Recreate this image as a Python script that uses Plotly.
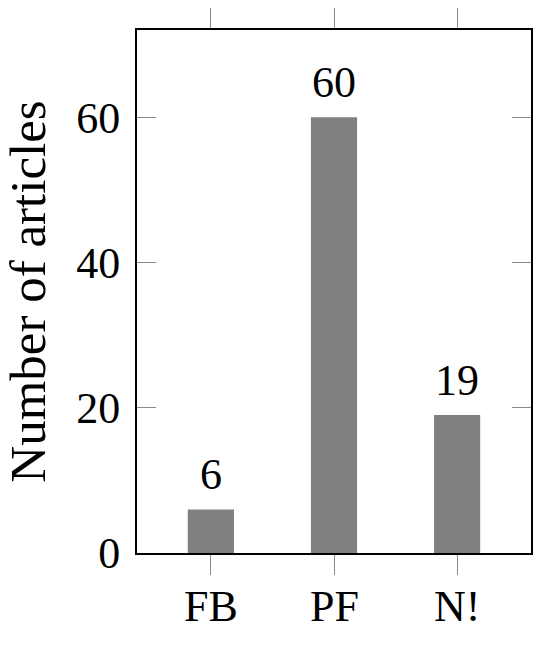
import plotly.graph_objects as go

categories = ["FB", "PF", "N!"]
counts = [6, 60, 19]
y_ticks = [0, 20, 40, 60]

FONT = "Palatino Linotype, Palatino, Book Antiqua, Liberation Serif, serif"

fig = go.Figure()

fig.add_trace(go.Bar(
    x=categories,
    y=counts,
    width=0.375,
    marker=dict(color="#808080", line=dict(width=0)),
))

# value labels above bars
for c, v in zip(categories, counts):
    fig.add_annotation(
        x=c, y=v, text=str(v),
        showarrow=False, yanchor="bottom", yshift=8,
        font=dict(size=44, color="black", family=FONT),
    )

# category labels under the axis (placed a bit higher than plotly's default)
for c in categories:
    fig.add_annotation(
        x=c, y=0, yref="paper", text=c,
        showarrow=False, yanchor="top", yshift=-27,
        font=dict(size=44, color="black", family=FONT),
    )

fig.update_layout(
    width=550,
    height=646,
    margin=dict(l=137, r=19, t=30, b=93),
    paper_bgcolor="white",
    plot_bgcolor="white",
    font=dict(family=FONT, size=44, color="black"),
    showlegend=False,
)

fig.update_xaxes(
    range=[-0.6, 2.6],
    automargin=False,
    showgrid=False,
    showline=True,
    linecolor="black",
    linewidth=2,
    mirror="ticks",
    ticks="outside",
    ticklen=20,
    tickwidth=1,
    tickcolor="#888888",
    showticklabels=False,
)

fig.update_yaxes(
    range=[0, 72],
    automargin=False,
    tickvals=y_ticks,
    showgrid=False,
    zeroline=False,
    showline=True,
    linecolor="black",
    linewidth=2,
    mirror="ticks",
    ticks="inside",
    ticklen=19,
    tickwidth=1,
    tickcolor="#888888",
    tickfont=dict(size=44),
    ticklabelstandoff=6,
    title=dict(text="Number of articles", font=dict(size=51), standoff=16),
)

fig.write_html(
    "out.html",
    config={"displayModeBar": False},
    post_script="document.body.style.margin='0';",
)
